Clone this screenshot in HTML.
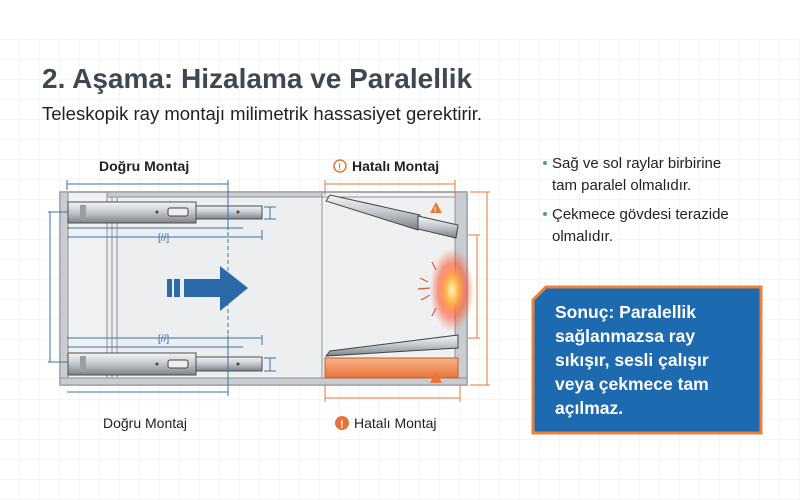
<!DOCTYPE html>
<html><head><meta charset="utf-8"><style>
html,body{margin:0;padding:0;width:800px;height:500px;overflow:hidden;background:#fff}
svg{display:block}
text{font-family:"Liberation Sans",sans-serif}
</style></head><body>
<svg width="800" height="500" viewBox="0 0 800 500" xmlns="http://www.w3.org/2000/svg">
<defs>
<pattern id="g" width="20" height="20" patternUnits="userSpaceOnUse" x="0" y="0">
<path d="M20 0V20M0 20H20" stroke="#eceef1" stroke-width="1" fill="none"/>
</pattern>
<linearGradient id="rail" x1="0" y1="0" x2="0" y2="1">
<stop offset="0" stop-color="#f4f5f6"/><stop offset=".45" stop-color="#c9cdd1"/><stop offset="1" stop-color="#7d8288"/>
</linearGradient>
<linearGradient id="orail" x1="0" y1="0" x2="0" y2="1">
<stop offset="0" stop-color="#f7b48a"/><stop offset="1" stop-color="#e8733a"/>
</linearGradient>
<radialGradient id="boom" cx="0.5" cy="0.5" r="0.5">
<stop offset="0" stop-color="#fff6c0"/><stop offset=".3" stop-color="#ffb347"/><stop offset=".65" stop-color="#ff4a2a" stop-opacity=".55"/><stop offset="1" stop-color="#ff5a2a" stop-opacity="0"/>
</radialGradient>
</defs>
<rect width="800" height="500" fill="#fff"/>
<rect y="38" width="800" height="462" fill="url(#g)"/>

<text x="42" y="88" font-size="28" font-weight="bold" fill="#3e4852">2. Aşama: Hizalama ve Paralellik</text>
<text x="42" y="120" font-size="18.5" fill="#1d2024">Teleskopik ray montajı milimetrik hassasiyet gerektirir.</text>

<!-- cabinet -->
<rect x="60" y="192" width="407" height="193" fill="#f0f1f3" stroke="#8d9298" stroke-width="1.5"/>
<rect x="60" y="192" width="8" height="193" fill="#c9ccd0" stroke="#8d9298"/>
<rect x="455" y="192" width="12" height="193" fill="#c9ccd0" stroke="#8d9298"/>
<rect x="60" y="378" width="407" height="7" fill="#c9ccd0" stroke="#8d9298"/>
<rect x="107" y="192" width="215" height="186" fill="#eceef0" stroke="#8d9298"/>
<rect x="107" y="192" width="215" height="5" fill="#c9ccd0" stroke="#8d9298"/>
<line x1="112" y1="197" x2="112" y2="378" stroke="#8d9298"/>
<line x1="117" y1="197" x2="117" y2="378" stroke="#8d9298"/>
<rect x="322" y="197" width="133" height="181" fill="#eef0f2" stroke="#8d9298"/>

<!-- left rails -->
<g>
<rect x="68" y="202" width="128" height="21" fill="url(#rail)" stroke="#4a4e54"/>
<rect x="196" y="206" width="66" height="13" fill="url(#rail)" stroke="#4a4e54"/>
<rect x="168" y="208" width="20" height="8" rx="2" fill="#eee" stroke="#444"/>
<rect x="80" y="205" width="6" height="15" fill="#9a9ea4"/>
<circle cx="157" cy="212" r="1.5" fill="#444"/><circle cx="238" cy="212" r="1.5" fill="#444"/>
<rect x="68" y="353" width="128" height="22" fill="url(#rail)" stroke="#4a4e54"/>
<rect x="196" y="357" width="66" height="14" fill="url(#rail)" stroke="#4a4e54"/>
<rect x="168" y="360" width="20" height="8" rx="2" fill="#eee" stroke="#444"/>
<rect x="80" y="356" width="6" height="16" fill="#9a9ea4"/>
<circle cx="157" cy="364" r="1.5" fill="#444"/><circle cx="238" cy="364" r="1.5" fill="#444"/>
</g>
<!-- dimension lines -->
<g stroke="#3a73a8" stroke-width="1" fill="none">
<path d="M67 184H228M67 180V190M228 180V230"/>
<path d="M67 228H243M67 237H262M262 230V240"/>
<path d="M67 338H262M67 347H243M262 335V345"/>
<path d="M67 392H228M228 335V396" />
<path d="M228 232V335" stroke-dasharray="4 3"/>
<path d="M48 212H68M48 362H68M50 212V362"/>
<path d="M270 207V219M264 207H276M264 219H276"/>
<path d="M270 358V371M264 358H276M264 371H276"/>
</g>
<g stroke="#e07a3a" stroke-width="1" fill="none">
<path d="M325 184H455M325 180V195M455 180V195"/>
<path d="M325 398H460M325 385V402M460 385V402"/>
<path d="M470 192H490M470 385H490M487 192V385"/>
<path d="M468 235H480M468 338H480M477 235V338"/>
</g>
<text x="158" y="241" font-size="10" fill="#3a73a8">[//]</text>
<text x="158" y="342" font-size="10" fill="#3a73a8">[//]</text>

<!-- arrow -->
<rect x="167" y="279" width="5" height="18" fill="#2a6aa8"/>
<rect x="174" y="279" width="6" height="18" fill="#2a6aa8"/>
<path d="M184 279H220V266L248 288L220 311V297H184Z" fill="#2a6aa8"/>

<!-- impact -->
<ellipse cx="452" cy="290" rx="22" ry="42" fill="url(#boom)"/>
<g stroke="#e8533a" stroke-width="1.2">
<path d="M428 282L420 278M430 295L421 300M436 270L432 262M436 308L432 316M430 288L418 289"/>
</g>

<!-- wrong rails -->
<polygon points="326,201 330,195 420,215 418,230" fill="url(#rail)" stroke="#444"/>
<polygon points="418,216 458,225 456,238 418,229" fill="url(#rail)" stroke="#444"/>
<polygon points="326,356 330,351 458,335 458,348" fill="url(#rail)" stroke="#444"/>
<rect x="325" y="358" width="133" height="20" fill="url(#orail)" stroke="#c0602a"/>
<path d="M436 202L430 213L442 213Z" fill="#e8773a"/>
<text x="434" y="212" font-size="7" fill="#fff" font-weight="bold">!</text>
<path d="M436 372L430 383L442 383Z" fill="#e8773a"/>

<!-- labels -->
<text x="99" y="171" font-size="14" font-weight="bold" fill="#1d2024">Doğru Montaj</text>
<circle cx="340" cy="166" r="6" fill="none" stroke="#e07a3a" stroke-width="1.5"/>
<text x="338" y="170" font-size="9" fill="#e07a3a" font-weight="bold">!</text>
<text x="352" y="171" font-size="14" font-weight="bold" fill="#1d2024">Hatalı Montaj</text>
<text x="103" y="428" font-size="14" fill="#1d2024">Doğru Montaj</text>
<circle cx="342" cy="423" r="7" fill="#e8733a"/>
<text x="340" y="428" font-size="11" fill="#fff" font-weight="bold">!</text>
<text x="354" y="428" font-size="14" fill="#1d2024">Hatalı Montaj</text>

<!-- bullets -->
<g font-size="15" fill="#1d2024">
<circle cx="545" cy="163" r="2" fill="#5a8fb8"/>
<text x="552" y="168">Sağ ve sol raylar birbirine</text>
<text x="552" y="190">tam paralel olmalıdır.</text>
<circle cx="545" cy="214" r="2" fill="#5a8fb8"/>
<text x="552" y="219">Çekmece gövdesi terazide</text>
<text x="552" y="241">olmalıdır.</text>
</g>

<!-- result box -->
<polygon points="546,287 761,287 761,433 533,433 533,300" fill="#1e6ab0" stroke="#e8823a" stroke-width="3"/>
<g font-size="17.5" font-weight="bold" fill="#fff">
<text x="555" y="318">Sonuç: Paralellik</text>
<text x="555" y="342">sağlanmazsa ray</text>
<text x="555" y="366">sıkışır, sesli çalışır</text>
<text x="555" y="390">veya çekmece tam</text>
<text x="555" y="414">açılmaz.</text>
</g>
</svg>
</body></html>
